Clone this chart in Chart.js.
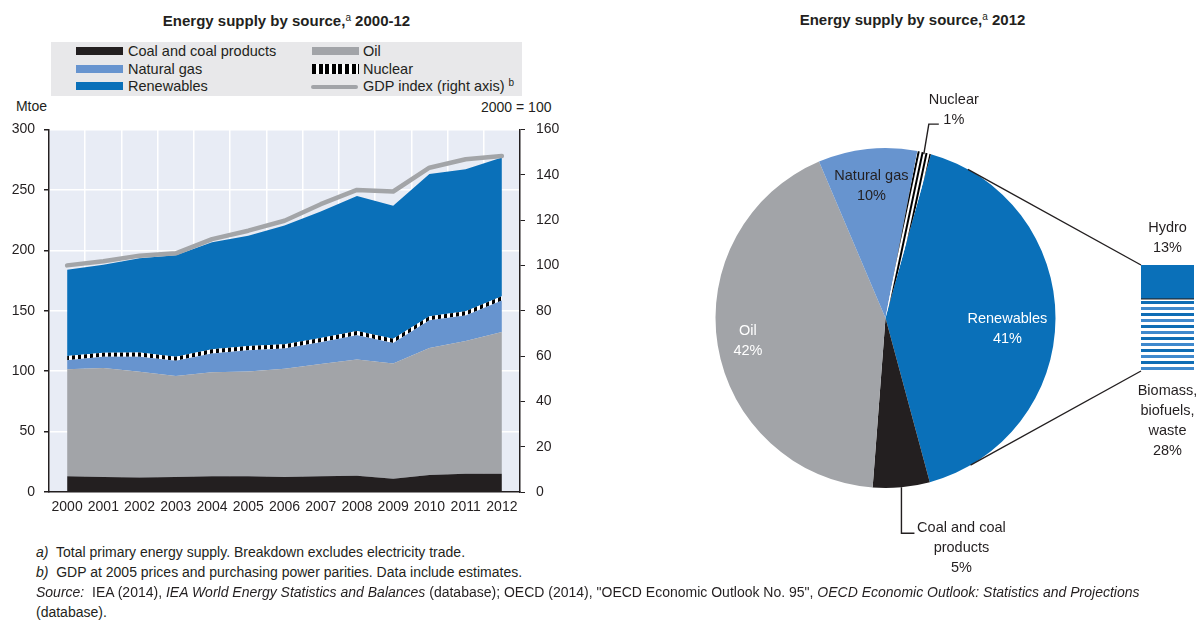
<!DOCTYPE html>
<html>
<head>
<meta charset="utf-8">
<script src="https://cdn.jsdelivr.net/npm/chart.js@4"></script>
<style>
  body{margin:0;width:1198px;height:620px;position:relative;overflow:hidden;background:#fff;color:#231f20;
       font-family:'Liberation Sans',Arial,sans-serif;}
  .a{position:absolute;white-space:nowrap;}
  .t{font-weight:bold;font-size:15px;line-height:22px;text-align:center;}
  sup{font-size:10px;font-weight:normal;vertical-align:5px;line-height:0;}
  .lt{font-size:14.5px;line-height:20px;}
  .sw{position:absolute;height:8px;width:47px;}
  .fn{font-size:14px;line-height:20px;left:36px;}
  canvas{position:absolute;}
</style>
</head>
<body>
<div class="a t" style="left:51px;width:471px;top:10px">Energy supply by source,<sup>a</sup> 2000-12</div>
<div class="a t" style="left:700px;width:425px;top:9px">Energy supply by source,<sup>a</sup> 2012</div>

<div class="a" style="left:51px;top:42px;width:471px;height:54px;background:#e8e8ea"></div>
<div class="sw" style="left:76px;top:47px;background:#231f20"></div>
<div class="a lt" style="left:128px;top:41px">Coal and coal products</div>
<div class="sw" style="left:312px;top:47px;background:#a2a4a8"></div>
<div class="a lt" style="left:363px;top:41px">Oil</div>
<div class="sw" style="left:76px;top:65px;background:#6794cf"></div>
<div class="a lt" style="left:128px;top:59px">Natural gas</div>
<div class="sw" style="left:312px;top:64px;height:10px;background:repeating-linear-gradient(90deg,#000 0 4px,#fff 4px 6.6px)"></div>
<div class="a lt" style="left:363px;top:59px">Nuclear</div>
<div class="sw" style="left:76px;top:82px;background:#0a70b9"></div>
<div class="a lt" style="left:128px;top:76px">Renewables</div>
<div class="sw" style="left:311px;top:85px;height:4px;border-radius:2px;background:#a2a4a8"></div>
<div class="a lt" style="left:363px;top:76px">GDP index (right axis) <sup>b</sup></div>

<div class="a lt" style="left:0;width:47px;text-align:right;top:96px;font-size:14px">Mtoe</div>
<div class="a lt" style="left:481px;top:97px;font-size:14px">2000 = 100</div>

<canvas id="areaChart" width="575" height="410" style="left:0;top:110px"></canvas>
<canvas id="pieChart" width="598" height="560" style="left:600px;top:30px"></canvas>
<canvas id="barChart" width="53" height="106" style="left:1141px;top:265px"></canvas>

<div class="a fn" style="top:542px"><i>a)</i>&nbsp; Total primary energy supply. Breakdown excludes electricity trade.</div>
<div class="a fn" style="top:562px"><i>b)</i>&nbsp; GDP at 2005 prices and purchasing power parities. Data include estimates.</div>
<div class="a fn" style="top:582px"><i>Source:</i>&nbsp; IEA (2014), <i>IEA World Energy Statistics and Balances</i> (database); OECD (2014), "OECD Economic Outlook No. 95", <i>OECD Economic Outlook: Statistics and Projections</i></div>
<div class="a fn" style="top:602px">(database).</div>

<script>
// 2000-12 series, Mtoe
const years = ['2000','2001','2002','2003','2004','2005','2006','2007','2008','2009','2010','2011','2012'];
const coal = [13, 12.5, 12, 12.5, 13, 13, 12.5, 13, 13.5, 11, 14, 15, 15];
const oil = [88.6, 90, 87.4, 83.5, 86, 86.7, 89.5, 93, 96.1, 95.3, 105.2, 110, 117.4];
const gas = [7.4, 9.3, 12.6, 12.5, 15.6, 17.6, 16.7, 18, 20.1, 17, 22.8, 21, 26.1];
const nuclear = [3.5, 3.5, 3.5, 3.5, 3.5, 3.5, 3.5, 3.5, 3.5, 3.5, 3.5, 3.5, 3.5];
const renewables = [71.3, 72.7, 77.9, 83.9, 88.5, 91.2, 98.2, 104.5, 111.8, 110, 117.5, 117.5, 114.7];
const gdpIndex = [100, 101.8, 104.3, 105.3, 111.6, 115.3, 119.7, 127, 133.3, 132.6, 143.1, 146.8, 148.3];

// 2012 shares (%)
const pieLabels = ['Renewables', 'Coal and coal products', 'Oil', 'Natural gas', 'Nuclear'];
const pieShares = [41.5, 5.4, 42.4, 9.4, 1.3];
const pieText = ['41%', '5%', '42%', '10%', '1%'];
const renewLabels = ['Biomass, biofuels, waste', 'Hydro'];
const renewShares = [28, 13];

const FONT = "'Liberation Sans',Arial,sans-serif";
const DARK = '#231f20';
Chart.defaults.font.family = FONT;
Chart.defaults.color = DARK;

function makePattern(w, h, draw){
    const c = document.createElement('canvas');
    c.width = w; c.height = h;
    const g = c.getContext('2d');
    draw(g);
    return g.createPattern(c, 'repeat');
}

const nuclearFill = makePattern(6, 6, g => {
    g.fillStyle = '#fff'; g.fillRect(0, 0, 6, 6);
    g.fillStyle = '#000'; g.fillRect(0, 0, 3, 6);
});
const nuclearPie = makePattern(4, 4, g => {
    g.fillStyle = '#fff'; g.fillRect(0, 0, 4, 4);
    g.fillStyle = '#000'; g.fillRect(0, 0, 2, 4);
});
nuclearPie.setTransform(new DOMMatrix().rotate(12));
const biomassFill = makePattern(4, 12, g => {
    g.fillStyle = '#fff'; g.fillRect(0, 0, 4, 12);
    g.fillStyle = '#0f6db5'; g.fillRect(0, 0, 4, 3);
    g.fillStyle = '#3f89cd'; g.fillRect(0, 6, 4, 3);
});

const plotBg = {
    id: 'plotBg',
    beforeDraw(chart){
        const {ctx, chartArea: a} = chart;
        ctx.save();
        ctx.fillStyle = '#e8ecf5';
        ctx.fillRect(a.left, a.top, a.right - a.left, a.bottom - a.top);
        ctx.restore();
    }
};

function area(label, data, color, fill){
    return {label, data, backgroundColor: color, borderWidth: 0, pointRadius: 0,
            fill, tension: 0, yAxisID: 'y'};
}

new Chart(document.getElementById('areaChart'), {
    type: 'line',
    data: {
        labels: years,
        datasets: [
            area('Coal and coal products', coal, DARK, 'origin'),
            area('Oil', oil, '#a2a4a8', '-1'),
            area('Natural gas', gas, '#6794cf', '-1'),
            area('Nuclear', nuclear, nuclearFill, '-1'),
            area('Renewables', renewables, '#0a70b9', '-1'),
            {label: 'GDP index (right axis)', data: gdpIndex, yAxisID: 'y1', borderColor: '#a3a5a8',
             borderWidth: 4.5, pointRadius: 0, fill: false, tension: 0, order: -1,
             borderCapStyle: 'round', borderJoinStyle: 'round'}
        ]
    },
    options: {
        responsive: false,
        animation: false,
        layout: {padding: {top: 12, left: 0, right: 0, bottom: 0}},
        plugins: {legend: {display: false}, tooltip: {enabled: false}},
        scales: {
            x: {
                offset: true,
                grid: {offset: true, color: '#fff', lineWidth: 1.5, drawTicks: false},
                border: {color: DARK, width: 1.5},
                ticks: {font: {size: 14}, padding: 7, maxRotation: 0, autoSkip: false},
                afterFit(s){ s.height = 28; }
            },
            y: {
                stacked: true, min: 0, max: 300,
                grid: {color: '#fff', lineWidth: 1.5, tickColor: DARK, tickLength: 5},
                border: {color: DARK, width: 1.5},
                ticks: {stepSize: 50, font: {size: 14}, padding: 9},
                afterFit(s){ s.width = 49; }
            },
            y1: {
                position: 'right', min: 0, max: 160,
                grid: {drawOnChartArea: false, tickColor: DARK, tickLength: 5},
                border: {color: DARK, width: 1.5},
                ticks: {stepSize: 20, font: {size: 14}, padding: 11},
                afterFit(s){ s.width = 55; }
            }
        }
    },
    plugins: [plotBg]
});

const barChart = new Chart(document.getElementById('barChart'), {
    type: 'bar',
    data: {
        labels: ['Renewables'],
        datasets: [
            {label: renewLabels[0], data: [renewShares[0]], backgroundColor: biomassFill,
             borderColor: DARK, borderWidth: {top: 1.2, left: 0, right: 0, bottom: 0}, borderSkipped: false},
            {label: renewLabels[1], data: [renewShares[1]], backgroundColor: '#0a70b9', borderWidth: 0}
        ]
    },
    options: {
        responsive: false,
        animation: false,
        layout: {padding: 0},
        datasets: {bar: {barPercentage: 1, categoryPercentage: 1}},
        plugins: {legend: {display: false}, tooltip: {enabled: false}},
        scales: {
            x: {stacked: true, display: false},
            y: {stacked: true, display: false, min: 0, max: renewShares[0] + renewShares[1]}
        }
    }
});

const rad = d => d * Math.PI / 180;

const pieNotes = {
    id: 'pieNotes',
    afterDraw(chart){
        const ctx = chart.ctx;
        const arcs = chart.getDatasetMeta(0).data;
        const {x, y, outerRadius: r} = arcs[0].getProps(['x', 'y', 'outerRadius'], true);
        const at = (ang, f) => [x + Math.cos(ang) * r * f, y + Math.sin(ang) * r * f];
        const mid = a => (a.startAngle + a.endAngle) / 2;

        const pb = chart.canvas.getBoundingClientRect();
        const bb = barChart.canvas.getBoundingClientRect();
        const ox = bb.left - pb.left, oy = bb.top - pb.top;
        const bio = barChart.getDatasetMeta(0).data[0];
        const hyd = barChart.getDatasetMeta(1).data[0];
        const bLeft = bio.x - bio.width / 2 + ox;
        const bCx = bio.x + ox;
        const bTop = hyd.y + oy;
        const bBottom = bio.base + oy;

        ctx.save();
        ctx.strokeStyle = DARK;
        ctx.lineWidth = 1.4;
        const line = pts => {
            ctx.beginPath();
            ctx.moveTo(pts[0][0], pts[0][1]);
            pts.slice(1).forEach(p => ctx.lineTo(p[0], p[1]));
            ctx.stroke();
        };
        line([at(rad(-61), 1), [bLeft, bTop]]);
        line([at(rad(60), 1), [bLeft, bBottom]]);

        ctx.font = '14.5px ' + FONT;
        ctx.textAlign = 'center';
        ctx.textBaseline = 'middle';
        const text = (lines, cx, cy, color) => {
            ctx.fillStyle = color;
            lines.forEach((t, i) => ctx.fillText(t, cx, cy + i * 20));
        };

        // inside labels
        let p = at(mid(arcs[0]) + rad(5), 0.72);
        text(['Renewables', pieText[0]], p[0], p[1] - 10, '#fff');
        p = at(mid(arcs[2]), 0.82);
        text(['Oil', pieText[2]], p[0], p[1] - 10, '#fff');
        p = at(mid(arcs[3]), 0.78);
        text(['Natural gas', pieText[3]], p[0], p[1] - 10, DARK);

        // nuclear, with leader
        const n = at(mid(arcs[4]), 0.99);
        line([n, [n[0] + 5, n[1] - 30], [n[0] + 15, n[1] - 30]]);
        text(['Nuclear', pieText[4]], n[0] + 30, n[1] - 54, DARK);

        // coal, with leader
        const c = arcs[1];
        const q = at(mid(c), 1);
        line([q, [q[0], q[1] + 46], [q[0] + 13, q[1] + 46]]);
        text(['Coal and coal', 'products', pieText[1]], q[0] + 60, q[1] + 41, DARK);

        // renewables breakdown
        text(['Hydro', renewShares[1] + '%'], bCx, bTop - 37, DARK);
        text(['Biomass,', 'biofuels,', 'waste', renewShares[0] + '%'], bCx, bBottom + 20, DARK);
        ctx.restore();
    }
};

new Chart(document.getElementById('pieChart'), {
    type: 'pie',
    data: {
        labels: pieLabels,
        datasets: [{
            data: pieShares,
            backgroundColor: ['#0a70b9', DARK, '#a2a4a8', '#6794cf', nuclearPie],
            borderWidth: 0, hoverOffset: 0, offset: 0
        }]
    },
    options: {
        responsive: false,
        animation: false,
        rotation: 15.5,
        layout: {padding: {left: 115.5, right: 142.5, top: 118, bottom: 102}},
        plugins: {legend: {display: false}, tooltip: {enabled: false}}
    },
    plugins: [pieNotes]
});
</script>
</body>
</html>
